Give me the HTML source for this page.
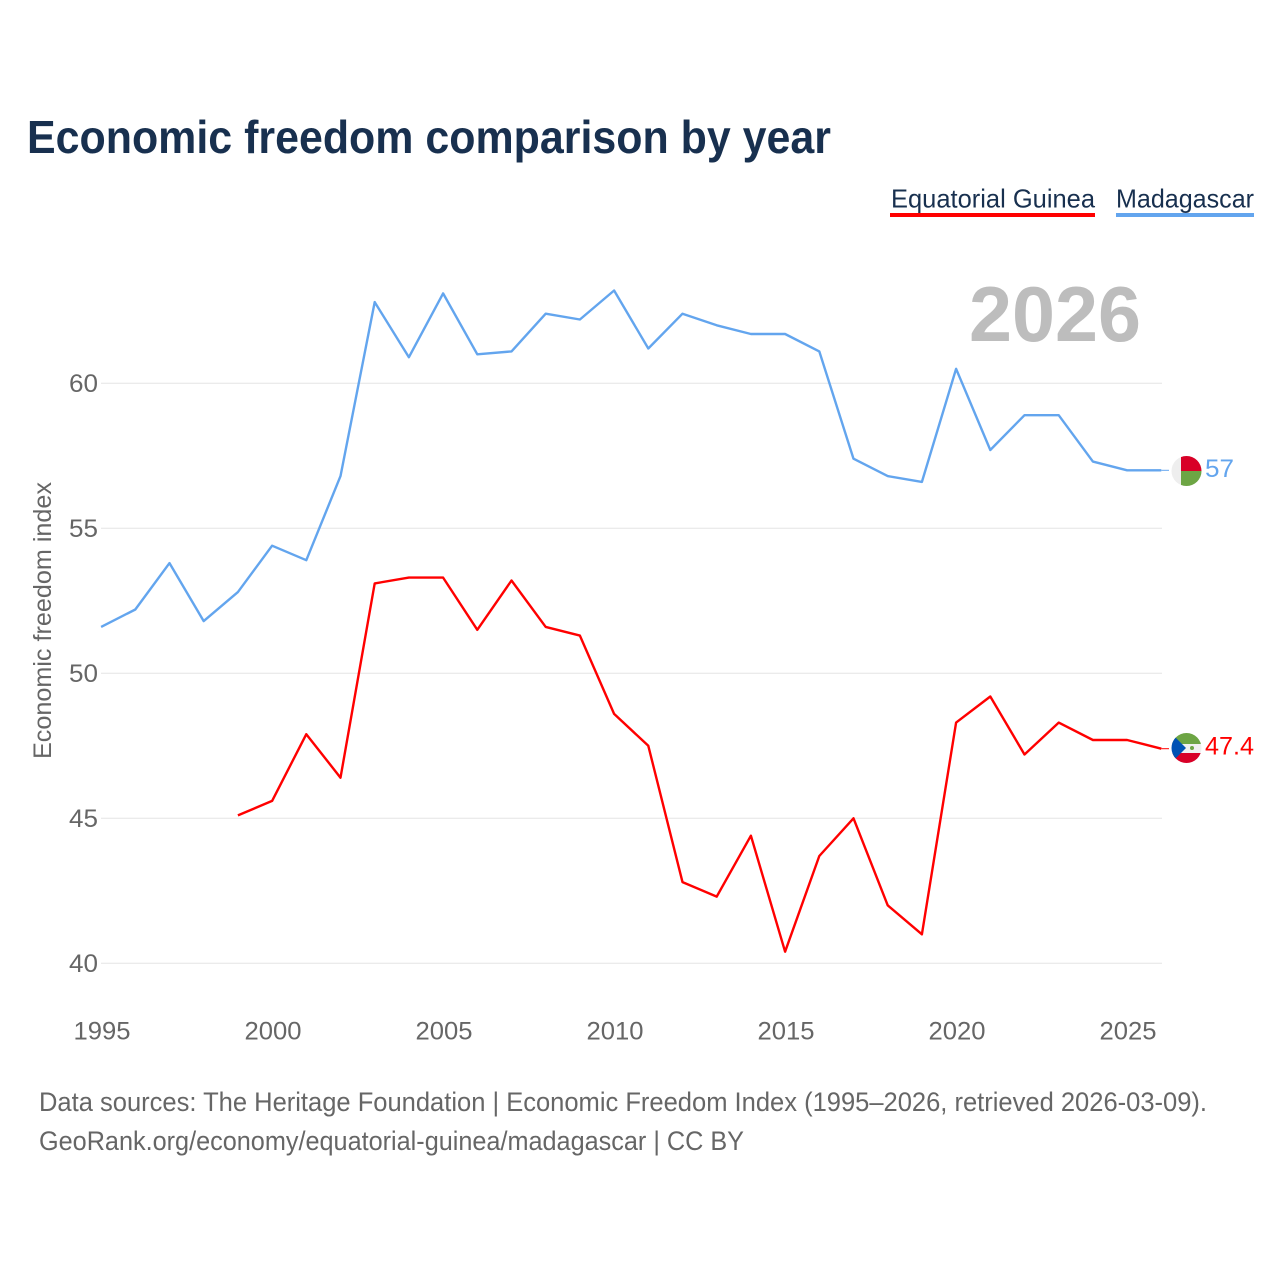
<!DOCTYPE html>
<html>
<head>
<meta charset="utf-8">
<title>Economic freedom comparison by year</title>
<style>
html,body{margin:0;padding:0;background:#fff;width:1280px;height:1280px;overflow:hidden}
svg{display:block}
text{font-family:"Liberation Sans",sans-serif}
</style>
</head>
<body>
<svg id="chart" xmlns="http://www.w3.org/2000/svg" width="1280" height="1280" viewBox="0 0 1280 1280">
  <rect width="1280" height="1280" fill="#fff"/>
  <text x="27" y="153" font-size="46" font-weight="700" fill="#18304f" textLength="804" lengthAdjust="spacingAndGlyphs">Economic freedom comparison by year</text>

  <g>
    <text x="891" y="207.5" font-size="26" fill="#18304f" textLength="204" lengthAdjust="spacingAndGlyphs">Equatorial Guinea</text>
    <rect x="890" y="213" width="205" height="4" fill="#ff0000"/>
  </g>
  <g>
    <text x="1116" y="207.5" font-size="26" fill="#18304f" textLength="138" lengthAdjust="spacingAndGlyphs">Madagascar</text>
    <rect x="1116" y="213" width="138" height="4" fill="#63a5ee"/>
  </g>

  <g id="grid"></g>
  <g id="yticks"></g>
  <g id="xticks"></g>

  <text x="969" y="341" font-size="78" font-weight="700" fill="#bdbdbd" textLength="172" lengthAdjust="spacingAndGlyphs">2026</text>

  <text transform="translate(51,759) rotate(-90)" font-size="25" fill="#666" textLength="277" lengthAdjust="spacingAndGlyphs">Economic freedom index</text>

  <g id="series"></g>

  <defs>
    <clipPath id="clip-mdg"><circle id="clip-mdg-circle" cx="1186.5" cy="470" r="15"/></clipPath>
    <clipPath id="clip-gnq"><circle id="clip-gnq-circle" cx="1186.5" cy="748" r="15"/></clipPath>
  </defs>

  <g id="flag-mdg" clip-path="url(#clip-mdg)">
    <rect x="1171" y="455" width="31" height="31" fill="#eeeeee"/>
    <rect x="1181" y="455" width="21" height="15" fill="#d80027"/>
    <rect x="1181" y="470" width="21" height="16" fill="#6da544"/>
  </g>
  <g id="flag-gnq" clip-path="url(#clip-gnq)">
    <rect x="1171" y="733" width="31" height="11" fill="#6da544"/>
    <rect x="1171" y="744" width="31" height="9" fill="#f0f0f0"/>
    <rect x="1171" y="753" width="31" height="10" fill="#d80027"/>
    <polygon points="1171,733 1186,748 1171,763" fill="#0052b4"/>
    <circle cx="1192" cy="748" r="2" fill="#6da544"/>
  </g>

  <text id="label-mdg" x="1205" y="476" font-size="25" fill="#63a5ee" textLength="29" lengthAdjust="spacingAndGlyphs"></text>
  <text id="label-gnq" x="1205" y="754" font-size="25" fill="#ff0000" textLength="49" lengthAdjust="spacingAndGlyphs"></text>

  <text x="39" y="1111" font-size="27" fill="#666" textLength="1168" lengthAdjust="spacingAndGlyphs">Data sources: The Heritage Foundation | Economic Freedom Index (1995–2026, retrieved 2026-03-09).</text>
  <text x="39" y="1150" font-size="27" fill="#666" textLength="705" lengthAdjust="spacingAndGlyphs">GeoRank.org/economy/equatorial-guinea/madagascar | CC BY</text>
</svg>
<script>
const years = [1995,1996,1997,1998,1999,2000,2001,2002,2003,2004,2005,2006,2007,2008,2009,2010,2011,2012,2013,2014,2015,2016,2017,2018,2019,2020,2021,2022,2023,2024,2025,2026];
const madagascarValues = [51.6,52.2,53.8,51.8,52.8,54.4,53.9,56.8,62.8,60.9,63.1,61.0,61.1,62.4,62.2,63.2,61.2,62.4,62.0,61.7,61.7,61.1,57.4,56.8,56.6,60.5,57.7,58.9,58.9,57.3,57.0,57.0];
const equatorialGuineaValues = [null,null,null,null,45.1,45.6,47.9,46.4,53.1,53.3,53.3,51.5,53.2,51.6,51.3,48.6,47.5,42.8,42.3,44.4,40.4,43.7,45.0,42.0,41.0,48.3,49.2,47.2,48.3,47.7,47.7,47.4];
const yTicks = [40,45,50,55,60];
const xTicks = [1995,2000,2005,2010,2015,2020,2025];

const NS = 'http://www.w3.org/2000/svg';
function xScale(v){ return 101.1 + (v - 1995) * 34.2; }
function yScale(v){ return 963.3 - (v - 40) * 29; }
function mk(tag, parent, attrs){
  const el = document.createElementNS(NS, tag);
  for (const k in attrs) el.setAttribute(k, attrs[k]);
  parent.appendChild(el);
  return el;
}

const grid = document.getElementById('grid');
const yG = document.getElementById('yticks');
const xG = document.getElementById('xticks');
yTicks.forEach(function(t){
  const line = mk('line', grid, {x1:101, x2:1162, y1:yScale(t), y2:yScale(t), stroke:'#ebebeb', 'stroke-width':1.3});
  
  
  const lab = mk('text', yG, {x:98, y:yScale(t)+8.7, 'text-anchor':'end', 'font-size':25, fill:'#666', textLength:29, lengthAdjust:'spacingAndGlyphs'});
  
  
  lab.textContent = t;
});
xTicks.forEach(function(t){
  const lab = mk('text', xG, {x:xScale(t)-27.6, y:1039.5, 'font-size':25, fill:'#666', textLength:57, lengthAdjust:'spacingAndGlyphs'});
  
  
  lab.textContent = t;
});

function pathFor(values){
  let d = '';
  values.forEach(function(v, i){
    if (v === null) return;
    d += (d ? 'L' : 'M') + xScale(years[i]).toFixed(2) + ' ' + yScale(v).toFixed(2);
  });
  return d;
}
const seriesG = document.getElementById('series');

const lineMdg = mk('path', seriesG, {d:pathFor(madagascarValues), fill:'none', stroke:'#63a5ee', 'stroke-width':2.4, 'stroke-linejoin':'round'});



const lineGnq = mk('path', seriesG, {d:pathFor(equatorialGuineaValues), fill:'none', stroke:'#ff0000', 'stroke-width':2.4, 'stroke-linejoin':'round'});



const lastMdg = madagascarValues[madagascarValues.length - 1];
const lastGnq = equatorialGuineaValues[equatorialGuineaValues.length - 1];

const stubMdg = mk('line', seriesG, {x1:xScale(2026), x2:1169, y1:yScale(lastMdg), y2:yScale(lastMdg), stroke:'#63a5ee', 'stroke-width':1});



const stubGnq = mk('line', seriesG, {x1:xScale(2026), x2:1169, y1:yScale(lastGnq), y2:yScale(lastGnq), stroke:'#ff0000', 'stroke-width':1});



document.getElementById('flag-mdg').setAttribute('transform', 'translate(0,' + (yScale(lastMdg) - 469.3) + ')');
document.getElementById('flag-gnq').setAttribute('transform', 'translate(0,' + (yScale(lastGnq) - 748.7) + ')');
const labelMdg = document.getElementById('label-mdg');
labelMdg.textContent = lastMdg;
labelMdg.setAttribute('y', yScale(lastMdg) + 6.7);
const labelGnq = document.getElementById('label-gnq');
labelGnq.textContent = lastGnq;
labelGnq.setAttribute('y', yScale(lastGnq) + 5.6);
</script>
</body>
</html>
